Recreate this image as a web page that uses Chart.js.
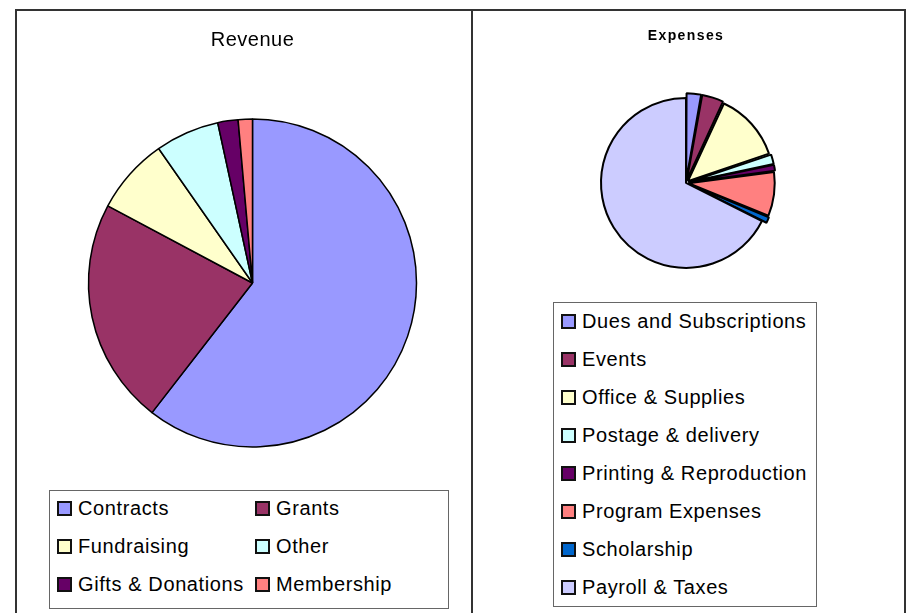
<!DOCTYPE html>
<html>
<head>
<meta charset="utf-8">
<script src="https://cdn.jsdelivr.net/npm/chart.js@4.4.1/dist/chart.umd.min.js"></script>
<style>
  body { margin: 0; background: #fff; font-family: "Liberation Sans", Arial, sans-serif; }
  .panel { position: absolute; top: 9px; height: 640px; border: 2px solid #333; box-sizing: border-box; }
  #leftPanel { left: 15px; width: 458px; }
  #rightPanel { left: 471px; width: 435px; }
  canvas { position: absolute; }
  #revenueChart { left: 17px; top: 11px; }
  #expenseChart { left: 473px; top: 11px; }
  .legend { position: absolute; border: 1px solid #666; box-sizing: border-box; background: #fff;
            font-size: 20px; letter-spacing: 0.6px; color: #000; }
  #revenueLegend { left: 49px; top: 490px; width: 400px; height: 119px; padding-left: 7px;
                   display: grid; grid-template-columns: 198px 190px; grid-auto-rows: 37.8px; }
  #expenseLegend { left: 553px; top: 302px; width: 264px; height: 305px; padding-left: 7px; }
  .item { display: flex; align-items: center; height: 37.8px; white-space: nowrap; }
  #revenueLegend .item { margin-top: -1px; }
  #expenseLegend .item { height: 37.9px; }
  .swatch { width: 11px; height: 11px; border: 2px solid #111; margin-right: 6px; flex: none; }
</style>
</head>
<body>
<div class="panel" id="leftPanel"></div>
<div class="panel" id="rightPanel"></div>
<canvas id="revenueChart" width="454" height="463"></canvas>
<canvas id="expenseChart" width="431" height="280"></canvas>
<div class="legend" id="revenueLegend"></div>
<div class="legend" id="expenseLegend"></div>
<script>
// Revenue (share of total, %)
const revenueLabels = ["Contracts", "Grants", "Fundraising", "Other", "Gifts & Donations", "Membership"];
const revenueValues = [60.5, 22.3, 7.5, 6.3, 2.0, 1.4];
const revenueColors = ["#9999FF", "#993366", "#FFFFCC", "#CCFFFF", "#660066", "#FF8080"];

// Expenses (share of total, %)
const expenseLabels = ["Dues and Subscriptions", "Events", "Office & Supplies", "Postage & delivery",
  "Printing & Reproduction", "Program Expenses", "Scholarship", "Payroll & Taxes"];
const expenseValues = [2.8, 4.1, 12.9, 1.9, 1.2, 8.3, 1.2, 67.6];
const expenseColors = ["#9999FF", "#993366", "#FFFFCC", "#CCFFFF", "#660066", "#FF8080", "#0066CC", "#CCCCFF"];

Chart.defaults.font.family = '"Liberation Sans", Arial, sans-serif';
Chart.defaults.color = "#000";

// canvas letter spacing for the title text
const spacingPlugin = {
  id: "letterSpacing",
  beforeDraw(chart, args, opts) { chart.ctx.letterSpacing = opts.value || "0px"; },
  afterDraw(chart) { chart.ctx.letterSpacing = "0px"; }
};

// fill an html legend box from the chart's own labels and colours
function buildLegend(chart, el) {
  const ds = chart.data.datasets[0];
  chart.data.labels.forEach((label, i) => {
    const item = document.createElement("div");
    item.className = "item";
    const box = document.createElement("span");
    box.className = "swatch";
    box.style.background = ds.backgroundColor[i];
    item.appendChild(box);
    item.appendChild(document.createTextNode(label));
    el.appendChild(item);
  });
}

const revenueChart = new Chart(document.getElementById("revenueChart"), {
  type: "pie",
  data: {
    labels: revenueLabels,
    datasets: [{
      data: revenueValues,
      backgroundColor: revenueColors,
      borderColor: "#000",
      borderWidth: 1.5
    }]
  },
  options: {
    responsive: false,
    animation: false,
    devicePixelRatio: 1,
    radius: 164,
    layout: { padding: { left: 17, right: 0, top: 0, bottom: 0 } },
    plugins: {
      legend: { display: false },
      tooltip: { enabled: false },
      letterSpacing: { value: "0.5px" },
      title: {
        display: true,
        text: "Revenue",
        font: { size: 20, weight: "normal" },
        padding: { top: 17, bottom: 40 }
      }
    }
  },
  plugins: [spacingPlugin]
});

const expenseChart = new Chart(document.getElementById("expenseChart"), {
  type: "pie",
  data: {
    labels: expenseLabels,
    datasets: [{
      data: expenseValues,
      backgroundColor: expenseColors,
      borderColor: "#000",
      borderWidth: 2,
      offset: [10, 10, 10, 10, 10, 10, 10, 0]
    }]
  },
  options: {
    responsive: false,
    animation: false,
    devicePixelRatio: 1,
    radius: 85,
    layout: { padding: { left: 0, right: 5, top: 0, bottom: 0 } },
    plugins: {
      legend: { display: false },
      tooltip: { enabled: false },
      letterSpacing: { value: "1.4px" },
      title: {
        display: true,
        text: "Expenses",
        font: { size: 14, weight: "bold" },
        padding: { top: 17, bottom: 30 }
      }
    }
  },
  plugins: [spacingPlugin]
});

buildLegend(revenueChart, document.getElementById("revenueLegend"));
buildLegend(expenseChart, document.getElementById("expenseLegend"));
</script>
</body>
</html>
